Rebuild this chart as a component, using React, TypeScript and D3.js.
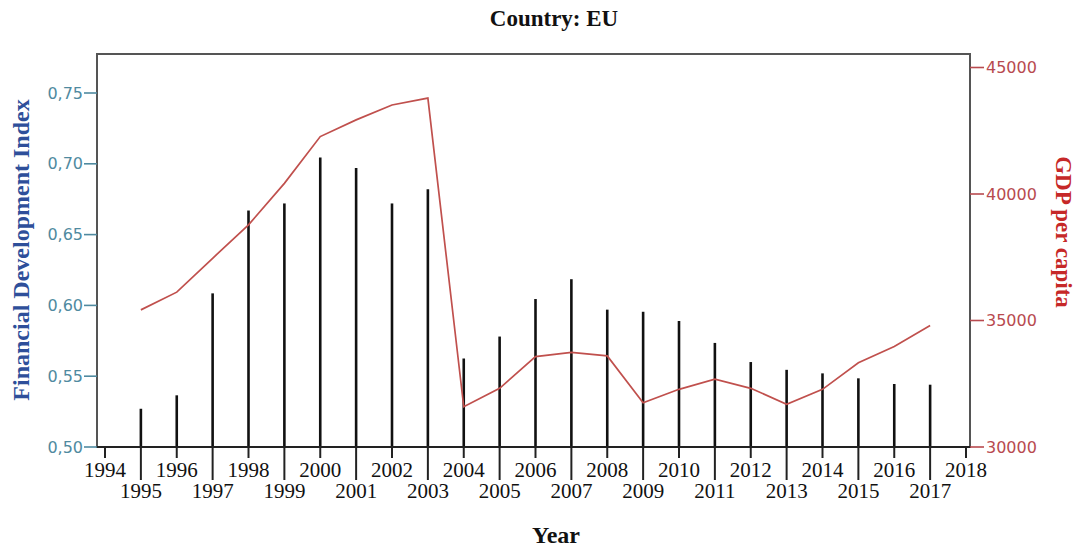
import React from "react";
import * as d3 from "d3";

const years = [1995,1996,1997,1998,1999,2000,2001,2002,2003,2004,2005,2006,2007,2008,2009,2010,2011,2012,2013,2014,2015,2016,2017];
const fdi = [0.527,0.5365,0.6085,0.667,0.672,0.7045,0.697,0.672,0.682,0.5625,0.578,0.6045,0.6185,0.597,0.5955,0.589,0.5735,0.56,0.5545,0.552,0.5485,0.5445,0.544];
const gdp = [35420,36120,37460,38780,40420,42270,42930,43520,43790,31590,32320,33570,33740,33600,31750,32280,32680,32320,31690,32280,33330,33970,34800];
const xTickYears = d3.range(1994, 2019);
const leftTicks = [0.5,0.55,0.6,0.65,0.7,0.75];
const rightTicks = [30000,35000,40000,45000];

const W = 1078, H = 551;
const L = 97, R = 970, T = 54, B = 447;

export default function App() {
  const x = d3.scaleLinear().domain([1994, 2018]).range([105, 966]);
  const yL = d3.scaleLinear().domain([0.5, 0.75]).range([B, 93]);
  const yR = d3.scaleLinear().domain([30000, 45000]).range([B, 67.5]);
  const line = d3.line<number>().x((_, i) => x(years[i])).y(d => yR(d));
  const fmtL = (v: number) => d3.format(".2f")(v).replace(".", ",");
  const serif = "'Liberation Serif', 'Times New Roman', serif";
  const sans = "'DejaVu Sans', Verdana, sans-serif";

  return (
    <svg width={W} height={H} style={{ position: "absolute", left: 0, top: 0, background: "#fff" }}>
      <rect x={0} y={0} width={W} height={H} fill="#fff" />
      <text x={554} y={26} textAnchor="middle" fontFamily={serif} fontWeight="bold" fontSize={23} fill="#111">Country: EU</text>

      {/* bars */}
      {years.map((yr, i) => (
        <line key={"b" + yr} x1={x(yr)} x2={x(yr)} y1={B} y2={yL(fdi[i])} stroke="#111" strokeWidth={2.6} />
      ))}

      {/* GDP line */}
      <path d={line(gdp) || ""} fill="none" stroke="#c0504d" strokeWidth={1.7} />

      {/* frame */}
      <path d={`M${L},${B} L${L},${T} L${R},${T} L${R},${B}`} fill="none" stroke="#555" strokeWidth={2} />
      <line x1={L - 1} x2={R + 1} y1={B} y2={B} stroke="#222" strokeWidth={2} />

      {/* left axis */}
      {leftTicks.map(v => (
        <g key={"l" + v}>
          <line x1={L - 13} x2={L} y1={yL(v)} y2={yL(v)} stroke="#4f8aa0" strokeWidth={1.6} />
          <text x={L - 14} y={yL(v)} dy="0.35em" textAnchor="end" fontFamily={sans} fontSize={16} fill="#4f8aa0">{fmtL(v)}</text>
        </g>
      ))}
      <text transform={`translate(29,250) rotate(-90)`} textAnchor="middle" fontFamily={serif} fontWeight="bold" fontSize={24} fill="#2e4f9a">Financial Development Index</text>

      {/* right axis */}
      {rightTicks.map(v => (
        <g key={"r" + v}>
          <line x1={R} x2={R + 14} y1={yR(v)} y2={yR(v)} stroke="#b84a4f" strokeWidth={1.6} />
          <text x={R + 16} y={yR(v)} dy="0.35em" textAnchor="start" fontFamily={sans} fontSize={16} fill="#b84a4f">{v}</text>
        </g>
      ))}
      <text transform={`translate(1056,232) rotate(90)`} textAnchor="middle" fontFamily={serif} fontWeight="bold" fontSize={23} fill="#c62828">GDP per capita</text>

      {/* x axis */}
      {xTickYears.map(yr => {
        const odd = yr % 2 === 1;
        return (
          <g key={"x" + yr}>
            <line x1={x(yr)} x2={x(yr)} y1={B} y2={odd ? 480 : 458} stroke="#222" strokeWidth={2} />
            <text x={x(yr)} y={odd ? 498 : 477} textAnchor="middle" fontFamily={serif} fontSize={21} fill="#111">{yr}</text>
          </g>
        );
      })}
      <text x={556} y={543} textAnchor="middle" fontFamily={serif} fontWeight="bold" fontSize={24} fill="#111">Year</text>
    </svg>
  );
}
